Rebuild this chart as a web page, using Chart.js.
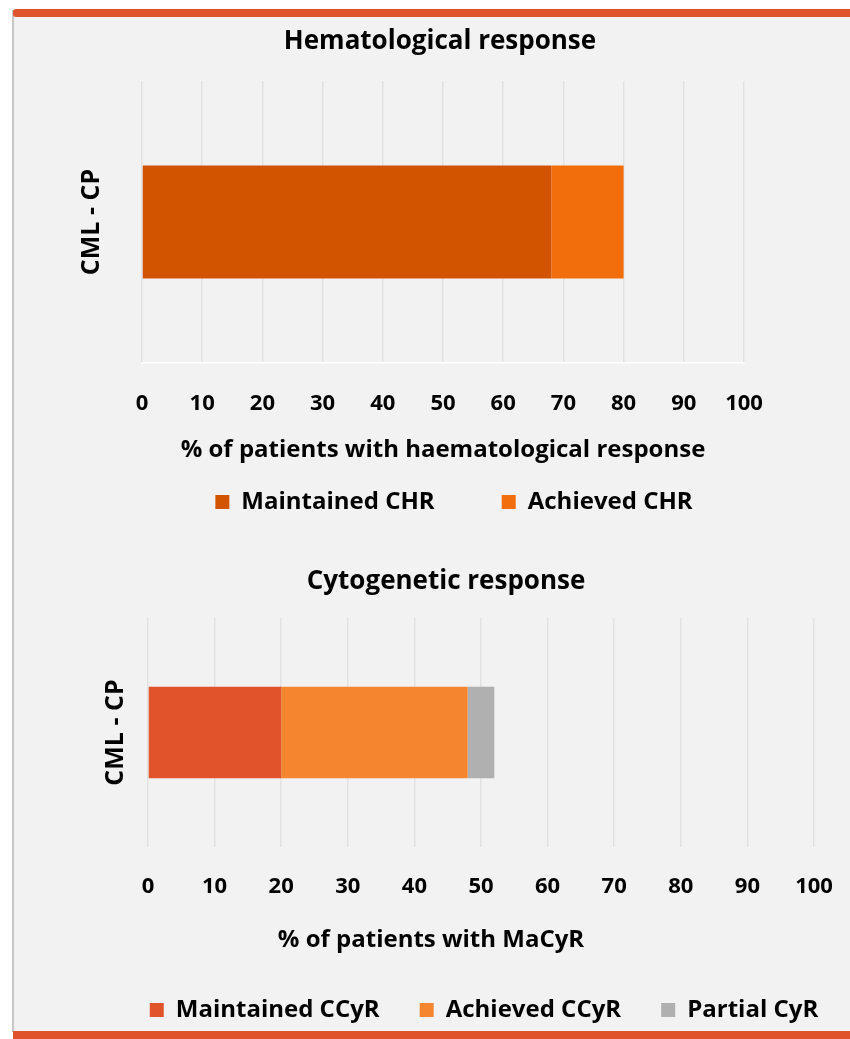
<!DOCTYPE html>
<html>
<head>
<meta charset="utf-8">
<script src="https://cdn.jsdelivr.net/npm/chart.js@4.4.1/dist/chart.umd.min.js"></script>
<style>
    html, body { margin: 0; padding: 0; background: #fff; width: 850px; height: 1039px; overflow: hidden; }
    #frame { position: absolute; left: 12px; top: 10px; width: 836px; height: 1022px; background: #f2f2f2; border-left: 2px solid #c6c6c6; }
    .band { position: absolute; left: 13px; width: 837px; height: 8px; background: #e0522b; }
    #bandTop { top: 9px; border-radius: 3px 0 0 3px; }
    #bandBottom { top: 1031px; }
    canvas { position: absolute; left: 0; }
</style>
</head>
<body>
<div id="frame"></div>
<div class="band" id="bandTop"></div>
<div class="band" id="bandBottom"></div>
<canvas id="hemaChart" width="850" height="504" style="top:20px"></canvas>
<canvas id="cytoChart" width="888" height="472" style="top:560px"></canvas>
<script>
const categories = ['CML - CP'];
const xTickValues = [0, 10, 20, 30, 40, 50, 60, 70, 80, 90, 100];

const hemaMaintained = [68];
const hemaAchieved = [12];

const cytoMaintained = [20];
const cytoAchieved = [28];
const cytoPartial = [4];

const FONT = "'Open Sans', 'Noto Sans', sans-serif";
const gridColor = '#e2e2e2';

Chart.defaults.font.family = FONT;
Chart.defaults.color = '#000';

// wraps a draw method so it is painted dx pixels to the side
function nudge(obj, method, dx) {
    if (!dx || obj['_nudged_' + method]) return;
    const orig = obj[method];
    obj[method] = function() {
        this.ctx.save();
        this.ctx.translate(dx, 0);
        orig.apply(this, arguments);
        this.ctx.restore();
    };
    obj['_nudged_' + method] = true;
}

// chart title sits a little off the centre in the original
const titleNudge = {
    id: 'titleNudge',
    afterInit(chart, args, opts) {
        nudge(chart.titleBlock, 'draw', opts.dx);
    }
};

// builds options for one horizontal stacked bar panel
function panelOptions(cfg) {
    return {
        indexAxis: 'y',
        responsive: false,
        maintainAspectRatio: false,
        animation: false,
        layout: { padding: { left: cfg.padLeft, right: cfg.padRight, top: 0, bottom: 0 } },
        plugins: {
            titleNudge: { dx: cfg.titleShift },
            title: {
                display: true,
                text: cfg.title,
                color: '#000',
                font: { size: 26, weight: '700' },
                padding: { top: 6.4, bottom: cfg.titleGap }
            },
            legend: {
                position: 'bottom',
                labels: {
                    color: '#000',
                    font: { size: 24, weight: '700' },
                    boxWidth: 14,
                    boxHeight: 14,
                    padding: cfg.legendPad
                }
            },
            tooltip: { enabled: false }
        },
        scales: {
            x: {
                stacked: true,
                min: 0,
                max: 100,
                afterBuildTicks: axis => { axis.ticks = xTickValues.map(v => ({ value: v })); },
                afterFit: s => {
                    s.height = cfg.xHeight;
                    nudge(s, 'drawTitle', cfg.xTitleShift);
                },
                ticks: { font: { size: 22, weight: '700' }, padding: cfg.tickPad, maxRotation: 0, color: '#000' },
                grid: { color: gridColor, lineWidth: 1.5, drawTicks: false },
                border: { display: cfg.whiteBase, color: '#ffffff', width: 1.5 },
                title: {
                    display: true,
                    text: cfg.xTitle,
                    color: '#000',
                    font: { size: 24, weight: '700' },
                    padding: { top: 0, bottom: cfg.xTitlePadBottom }
                }
            },
            y: {
                stacked: true,
                afterFit: s => { s.width = cfg.yWidth; },
                ticks: { display: false },
                grid: { display: false },
                border: { display: false },
                title: {
                    display: true,
                    text: categories[0],
                    color: '#000',
                    font: { size: 25, weight: '700' },
                    padding: { top: cfg.yTitlePad, bottom: 0 }
                }
            },
            yR: {
                axis: 'y',
                type: 'linear',
                position: 'right',
                afterFit: s => { s.width = cfg.rightWidth; },
                ticks: { display: false },
                grid: { display: false },
                border: { display: false }
            }
        }
    };
}

new Chart(document.getElementById('hemaChart').getContext('2d'), {
    type: 'bar',
    data: {
        labels: categories,
        datasets: [
            { label: 'Maintained CHR', data: hemaMaintained, backgroundColor: '#d35400', barPercentage: 0.4, categoryPercentage: 1 },
            { label: 'Achieved CHR', data: hemaAchieved, backgroundColor: '#f26d0c', barPercentage: 0.4, categoryPercentage: 1 }
        ]
    },
    options: panelOptions({
        title: 'Hematological response',
        titleShift: -14,
        xTitle: '% of patients with haematological response',
        xTitleShift: 0,
        padLeft: 60, padRight: 2,
        titleGap: 23.4,
        legendPad: 67,
        xHeight: 60, tickPad: 27.8, xTitlePadBottom: -41.4,
        yWidth: 82, yTitlePad: 17,
        rightWidth: 104,
        whiteBase: true
    }),
    plugins: [titleNudge]
});

new Chart(document.getElementById('cytoChart').getContext('2d'), {
    type: 'bar',
    data: {
        labels: categories,
        datasets: [
            { label: 'Maintained CCyR', data: cytoMaintained, backgroundColor: '#e0532b', barPercentage: 0.4, categoryPercentage: 1 },
            { label: 'Achieved CCyR', data: cytoAchieved, backgroundColor: '#f5862f', barPercentage: 0.4, categoryPercentage: 1 },
            { label: 'Partial CyR', data: cytoPartial, backgroundColor: '#b0b0b0', barPercentage: 0.4, categoryPercentage: 1 }
        ]
    },
    options: panelOptions({
        title: 'Cytogenetic response',
        titleShift: -38,
        xTitle: '% of patients with MaCyR',
        xTitleShift: -50,
        padLeft: 80, padRight: 0,
        titleGap: 20.4,
        legendPad: 40,
        xHeight: 111, tickPad: 26.8, xTitlePadBottom: 3.6,
        yWidth: 68, yTitlePad: 21,
        rightWidth: 74,
        whiteBase: false
    }),
    plugins: [titleNudge]
});
</script>
</body>
</html>
